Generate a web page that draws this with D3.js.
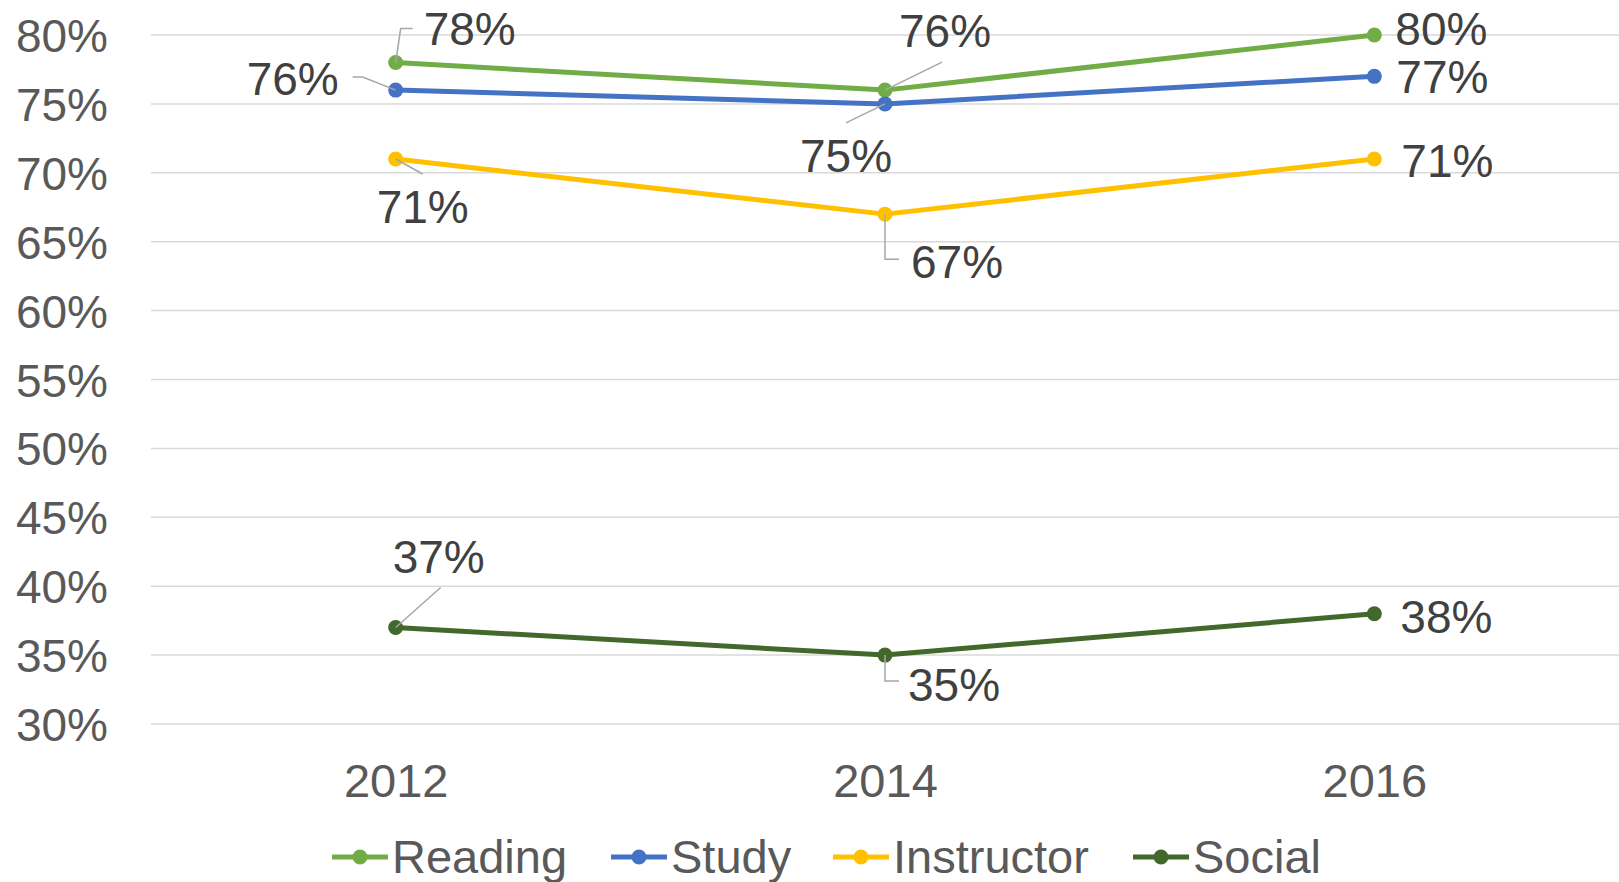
<!DOCTYPE html>
<html>
<head>
<meta charset="utf-8">
<script src="https://cdn.jsdelivr.net/npm/d3@7"></script>
<style>
  html, body { margin: 0; padding: 0; background: #fff; }
  svg { display: block; font-family: "Liberation Sans", Arial, sans-serif; }
</style>
</head>
<body>
<div id="chart"></div>
<script>
const width = 1619;
const height = 882;

// data
const years = ["2012", "2014", "2016"];
const seriesNames = ["Reading", "Study", "Instructor", "Social"];
const reading = [78, 76, 80];
const study = [76, 75, 77];
const instructor = [71, 67, 71];
const social = [37, 35, 38];
const yTicks = [30, 35, 40, 45, 50, 55, 60, 65, 70, 75, 80];

const colors = ["#70ad47", "#4472c4", "#ffc000", "#43682b"];
const seriesValues = [reading, study, instructor, social];

// label placement relative to the point: text start (dx, dy baseline) and leader line
const labelPlace = [
    [
        {dx: 28, dy: -18, leader: [[0, 0], [5, -34], [17, -34]]},
        {dx: 14, dy: -43, leader: [[0, 0], [57, -28]]},
        {dx: 21, dy: 10}
    ],
    [
        {dx: -149, dy: 5, leader: [[0, 0], [-33, -13], [-43, -13]]},
        {dx: -85, dy: 68, leader: [[0, 0], [-39, 19]]},
        {dx: 22, dy: 17}
    ],
    [
        {dx: -19, dy: 64, leader: [[0, 0], [27, 15]]},
        {dx: 26, dy: 64, leader: [[0, 0], [0, 45], [14, 45]]},
        {dx: 27, dy: 18}
    ],
    [
        {dx: -3, dy: -55, leader: [[0, 0], [45, -40]]},
        {dx: 23, dy: 46, leader: [[0, 0], [0, 26], [14, 26]]},
        {dx: 26, dy: 19}
    ]
];

const x = d3.scalePoint().domain(years).range([151, 1619]).padding(0.5);
const y = d3.scaleLinear().domain([30, 80]).range([724, 35]);

const svg = d3.select("#chart")
    .append("svg")
    .attr("width", width)
    .attr("height", height)
    .attr("viewBox", [0, 0, width, height]);

// gridlines
svg.append("g")
    .selectAll("line")
    .data(yTicks)
    .join("line")
    .attr("x1", 151)
    .attr("x2", 1619)
    .attr("y1", d => y(d))
    .attr("y2", d => y(d))
    .attr("stroke", "#d9d9d9")
    .attr("stroke-width", 1.5);

// y axis
const yAxis = svg.append("g")
    .attr("transform", "translate(108,0)")
    .call(d3.axisLeft(y).tickValues(yTicks).tickSize(0).tickPadding(0).tickFormat(d => d + "%"));
yAxis.select(".domain").remove();
yAxis.selectAll("text")
    .attr("fill", "#595959")
    .attr("font-size", 46)
    .attr("font-family", "Liberation Sans, Arial, sans-serif")
    .attr("dy", "0.36em");

// x axis
const xAxis = svg.append("g")
    .attr("transform", "translate(0,797)")
    .call(d3.axisBottom(x).tickSize(0).tickPadding(0));
xAxis.select(".domain").remove();
xAxis.selectAll("text")
    .attr("fill", "#595959")
    .attr("font-size", 47)
    .attr("font-family", "Liberation Sans, Arial, sans-serif")
    .attr("dy", 0);

const line = d3.line()
    .x((d, i) => x(years[i]))
    .y(d => y(d));

// lines
seriesValues.forEach((vals, s) => {
    svg.append("path")
        .datum(vals)
        .attr("fill", "none")
        .attr("stroke", colors[s])
        .attr("stroke-width", 5)
        .attr("stroke-linejoin", "round")
        .attr("d", line);
});

// markers
seriesValues.forEach((vals, s) => {
    svg.append("g")
        .selectAll("circle")
        .data(vals)
        .join("circle")
        .attr("cx", (d, i) => x(years[i]))
        .attr("cy", d => y(d))
        .attr("r", 7.5)
        .attr("fill", colors[s]);
});

// leader lines + data labels
seriesValues.forEach((vals, s) => {
    vals.forEach((v, i) => {
        const px = x(years[i]), py = y(v);
        const p = labelPlace[s][i];
        if (p.leader) {
            svg.append("path")
                .attr("d", d3.line()(p.leader.map(q => [px + q[0], py + q[1]])))
                .attr("fill", "none")
                .attr("stroke", "#a6a6a6")
                .attr("stroke-width", 1.5);
        }
        svg.append("text")
            .attr("x", px + p.dx)
            .attr("y", py + p.dy)
            .attr("fill", "#404040")
            .attr("font-size", 46)
            .text(v + "%");
    });
});

// legend
const legendX = [332, 611, 833, 1133];
const legend = svg.append("g")
    .selectAll("g")
    .data(seriesNames)
    .join("g")
    .attr("transform", (d, i) => `translate(${legendX[i]},857)`);
legend.append("line")
    .attr("x1", 0).attr("x2", 56)
    .attr("stroke", (d, i) => colors[i])
    .attr("stroke-width", 5);
legend.append("circle")
    .attr("cx", 28)
    .attr("r", 7.5)
    .attr("fill", (d, i) => colors[i]);
legend.append("text")
    .attr("x", 60)
    .attr("y", 16)
    .attr("fill", "#595959")
    .attr("font-size", 47)
    .text(d => d);
</script>
</body>
</html>
